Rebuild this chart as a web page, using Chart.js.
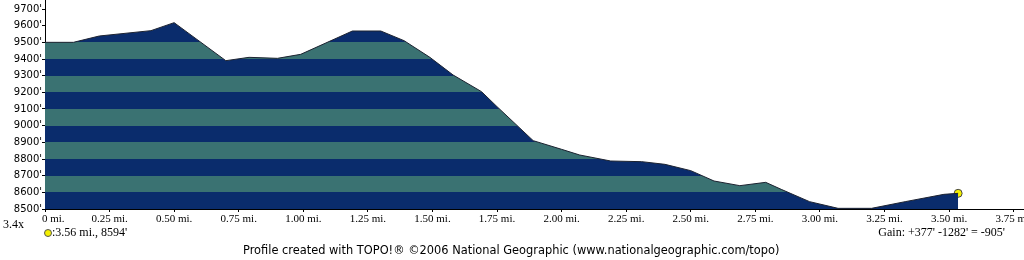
<!DOCTYPE html>
<html>
<head>
<meta charset="utf-8">
<script src="https://cdn.jsdelivr.net/npm/chart.js@4"></script>
<style>
    body { margin: 0; background: #fff; }
    #wrap { position: relative; width: 1024px; height: 260px; overflow: hidden; }
    #perfil { position: absolute; left: 0; top: 0; }
    .txt { position: absolute; white-space: nowrap; color: #000; line-height: 1; }
    .serif { font-family: "Liberation Serif", serif; font-size: 12px; }
    #zoom { left: 3px; top: 218px; }
    #ponto { left: 44px; top: 226px; }
    #ponto i { display: inline-block; width: 6px; height: 6px; border-radius: 50%; background: #f4f000; border: 1px solid #555; vertical-align: -1px; }
    #ganho { right: 19px; top: 226px; }
    #rodape { left: 243px; top: 245px; font-family: "DejaVu Sans", sans-serif; font-size: 11.4px; }
</style>
</head>
<body>
<div id="wrap">
    <canvas id="perfil" width="1024" height="260"></canvas>
    <div class="txt serif" id="zoom">3.4x</div>
    <div class="txt serif" id="ponto"><i></i>:3.56 mi., 8594'</div>
    <div class="txt serif" id="ganho">Gain: +377' -1282' = -905'</div>
    <div class="txt" id="rodape">Profile created with TOPO!® ©2006 National Geographic (www.nationalgeographic.com/topo)</div>
</div>
<script>
const distancias = [0, 0.11, 0.21, 0.41, 0.50, 0.70, 0.79, 0.90, 0.99, 1.19, 1.30, 1.39, 1.49, 1.58, 1.69, 1.75, 1.89, 2.00, 2.07, 2.19, 2.31, 2.40, 2.50, 2.59, 2.69, 2.79, 2.85, 2.96, 3.07, 3.20, 3.33, 3.48, 3.535]
const altitudes = [9500, 9500, 9538, 9570, 9618, 9390, 9410, 9404, 9428, 9568, 9568, 9510, 9410, 9304, 9204, 9114, 8910, 8858, 8824, 8788, 8784, 8768, 8730, 8668, 8640, 8660, 8618, 8544, 8504, 8504, 8544, 8588, 8594]
const ticksAltitude = [8500, 8600, 8700, 8800, 8900, 9000, 9100, 9200, 9300, 9400, 9500, 9600, 9700]
const ticksDistancia = [0, 0.25, 0.5, 0.75, 1, 1.25, 1.5, 1.75, 2, 2.25, 2.5, 2.75, 3, 3.25, 3.5, 3.75]
const pontoFinal = { x: 3.535, y: 8594 }

const AZUL = '#0a2c6c'
const VERDE = '#3a7272'

function faixas(context) {
    const chart = context.chart
    if (!chart.chartArea) return AZUL
    const y = chart.scales.y
    const base = y.getPixelForValue(ticksAltitude[0])
    const topo = y.getPixelForValue(9600)
    const grad = chart.ctx.createLinearGradient(0, base, 0, topo)
    const n = 11
    for (let i = 0; i < n; i++) {
        const cor = i % 2 === 0 ? AZUL : VERDE
        grad.addColorStop(i / n, cor)
        grad.addColorStop((i + 1) / n, cor)
    }
    return grad
}

const pontos = distancias.map((d, i) => ({ x: d, y: altitudes[i] }))

new Chart(document.getElementById('perfil'), {
    type: 'line',
    data: {
        datasets: [{
            data: pontos,
            borderColor: '#1c2230',
            borderWidth: 1,
            backgroundColor: faixas,
            fill: 'start',
            pointRadius: 0,
            tension: 0
        }, {
            data: [pontoFinal],
            showLine: false,
            pointRadius: 4,
            pointBackgroundColor: '#f4f000',
            pointBorderColor: '#444',
            pointBorderWidth: 1
        }]
    },
    options: {
        responsive: false,
        animation: false,
        events: [],
        layout: { padding: 0, autoPadding: false },
        plugins: { legend: { display: false }, tooltip: { enabled: false } },
        scales: {
            x: {
                type: 'linear',
                min: 0,
                max: 3.79,
                afterBuildTicks: s => { s.ticks = ticksDistancia.map(v => ({ value: v })) },
                afterFit: s => { s.height = 51; s.paddingLeft = 0; s.paddingRight = 0 },
                grid: { drawOnChartArea: false, drawTicks: true, tickLength: 3, color: '#000' },
                border: { display: true, color: '#000', width: 1 },
                ticks: {
                    autoSkip: false,
                    maxRotation: 0,
                    padding: 1,
                    color: '#000',
                    font: { family: 'Liberation Serif', size: 11 },
                    callback: v => v === 0 ? '      0 mi.' : v.toFixed(2) + ' mi.'
                }
            },
            y: {
                min: 8500,
                max: 9754,
                afterBuildTicks: s => { s.ticks = ticksAltitude.map(v => ({ value: v })) },
                afterFit: s => { s.width = 45; s.paddingTop = 0; s.paddingBottom = 0 },
                grid: { drawOnChartArea: false, drawTicks: true, tickLength: 3, color: '#000' },
                border: { display: true, color: '#000', width: 1 },
                ticks: {
                    padding: 0,
                    color: '#000',
                    font: { family: 'DejaVu Sans', size: 10 },
                    callback: v => v + "'"
                }
            }
        }
    }
})
</script>
</body>
</html>
